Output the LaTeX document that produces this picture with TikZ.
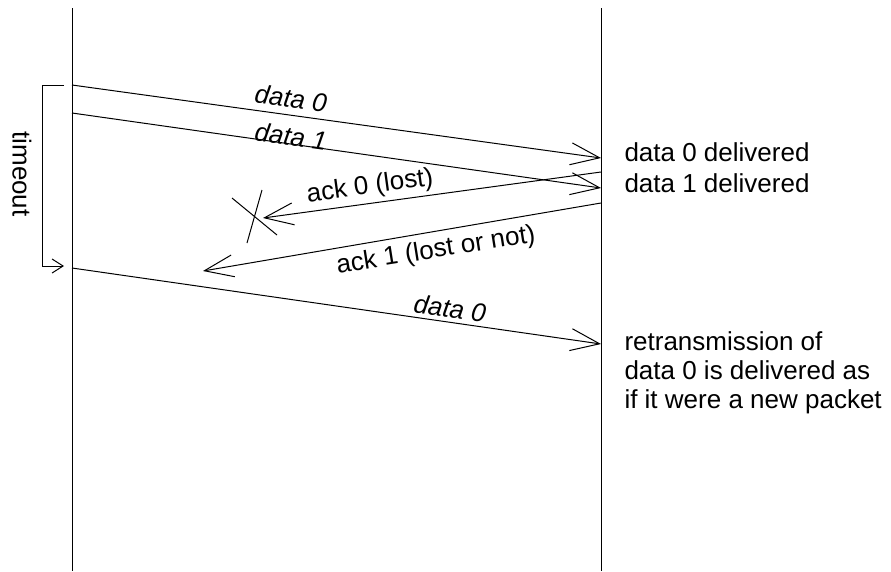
\documentclass[tikz,border=0pt]{standalone}
\usepackage{fontspec}
\setmainfont{Liberation Sans}
\usetikzlibrary{arrows.meta}

\tikzset{
  msg/.style={-{Straight Barb[length=29pt, width=22pt]}},
  lbl/.style={inner sep=0pt},
  note/.style={anchor=base west, inner sep=0pt},
}

\begin{document}
\begin{tikzpicture}[x=1pt, y=-1pt, line width=1pt, font=\fontsize{26}{29}\selectfont]
  \useasboundingbox (0, 0) rectangle (891, 571);

  % lifelines
  \coordinate (sndTop) at (72, 8);
  \coordinate (sndBot) at (72, 571);
  \coordinate (rcvTop) at (601, 8);
  \coordinate (rcvBot) at (601, 571);
  \draw (sndTop) -- (sndBot);
  \draw (rcvTop) -- (rcvBot);

  % end points of the messages
  \coordinate (d0s) at (72, 85);   \coordinate (d0r) at (601, 158);
  \coordinate (d1s) at (72, 113);  \coordinate (d1r) at (601, 188);
  \coordinate (a0s) at (601, 172); \coordinate (a0r) at (263, 218);
  \coordinate (a1s) at (601, 203); \coordinate (a1r) at (203, 271);
  \coordinate (r0s) at (72, 268);  \coordinate (r0r) at (601, 344);

  \draw[msg] (d0s) -- (d0r);
  \draw[msg] (d1s) -- (d1r);
  \draw[msg] (a0s) -- (a0r);
  \draw[msg] (a1s) -- (a1r);
  \draw[msg] (r0s) -- (r0r);

  \node[lbl, rotate=-7.9] (lblD0) at (291, 98) {\itshape data 0};
  \node[lbl, rotate=-8.1] (lblD1) at (291, 136) {\itshape data 1};
  \node[lbl, rotate=7.8] (lblA0) at (370, 187) {ack 0 (lost)};
  \node[lbl, rotate=9] (lblA1) at (436, 251) {ack 1 (lost or not)};
  \node[lbl, rotate=-8.2] (lblR0) at (450, 308) {\itshape data 0};

  % the lost ack
  \draw (232, 198) -- (277, 235);
  \draw (262, 190) -- (247, 243);

  % timeout
  \coordinate (toA) at (64, 85);
  \coordinate (toB) at (64, 266);
  \draw[-{Straight Barb[length=11pt, width=14pt]}] (toA) -- ++(-22, 0) |- (toB);
  \node[lbl, rotate=-90] (lblTo) at (22, 174) {timeout};

  % receiver side
  \node[note] (dlv0) at (624, 161) {data 0 delivered};
  \node[note] (dlv1) at (624, 192) {data 1 delivered};
  \node[note, anchor=north west, align=left] (dlvR) at (624, 331)
    {retransmission of\\data 0 is delivered as\\if it were a new packet};
\end{tikzpicture}
\end{document}
